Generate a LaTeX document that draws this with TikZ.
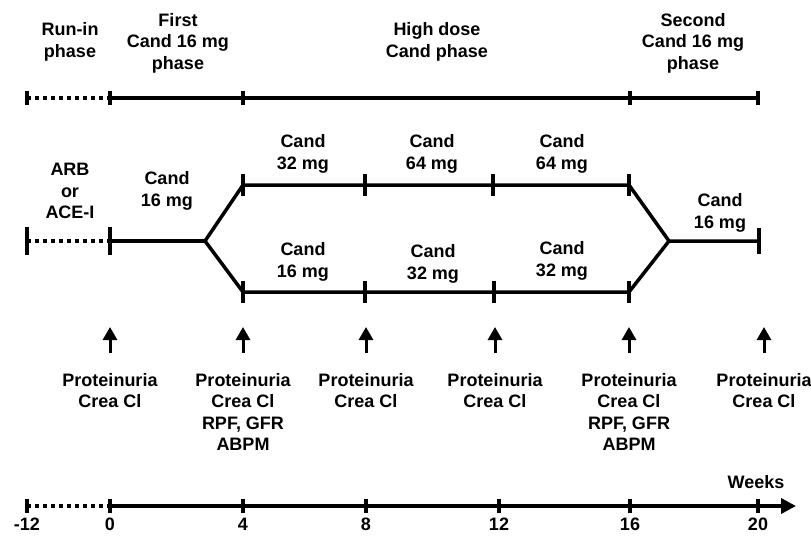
\documentclass[tikz,border=0pt]{standalone}
\usepackage{fontspec}
\setmainfont{Liberation Sans}
\usetikzlibrary{arrows.meta}
\begin{document}
\begin{tikzpicture}[x=1pt,y=-1pt,
  lbl/.style={font=\fontsize{18}{21.5}\selectfont\bfseries,align=center,inner sep=0pt},
  bar/.style={line width=3.5pt},
  tickmark/.style={line width=3.5pt},
  dotline/.style={line width=3.5pt,dash pattern=on 4pt off 4pt},
  upar/.style={line width=3pt,-{Triangle[length=13pt,width=14pt]}},
  axisar/.style={line width=3.5pt,-{Triangle[length=15pt,width=15pt]}}
]
\useasboundingbox (0,0) rectangle (811,538);

% ---------- phase line (top) ----------
\coordinate (t0) at (27,98);
\coordinate (t1) at (110,98);
\coordinate (t2) at (243,98);
\coordinate (t3) at (630,98);
\coordinate (t4) at (758,98);
\draw[dotline] (t0) -- (t1);
\draw[bar] (t1) -- (t4);
\foreach \p in {t0,t1,t2,t3,t4} \draw[tickmark] (\p) ++(0,-7) -- ++(0,14);

\node[lbl] (ph0) at (70,42) {Run-in\\phase};
\node[lbl] (ph1) at (178,43) {First\\Cand 16 mg\\phase};
\node[lbl] (ph2) at (437,42) {High dose\\Cand phase};
\node[lbl] (ph3) at (693,43) {Second\\Cand 16 mg\\phase};

% ---------- treatment arms (middle) ----------
\coordinate (m0) at (27,241);
\coordinate (m1) at (110,241);
\coordinate (br) at (205,241);
\coordinate (u0) at (243,185);
\coordinate (u1) at (365,185);
\coordinate (u2) at (493,185);
\coordinate (u3) at (629,185);
\coordinate (l0) at (243,292);
\coordinate (l1) at (365,292);
\coordinate (l2) at (494,292);
\coordinate (l3) at (629,292);
\coordinate (br2) at (669,241);
\coordinate (mE) at (759,241);

\draw[dotline] (m0) -- (m1);
\draw[bar] (m1) -- (br);
\draw[bar] (br) -- (u0) -- (u3) -- (br2) -- (mE);
\draw[bar] (br) -- (l0) -- (l3) -- (br2);
\foreach \p in {m0,m1} \draw[tickmark] (\p) ++(0,-14) -- ++(0,28);
\foreach \p in {u0,u1,u2,u3,l0,l1,l2,l3} \draw[tickmark] (\p) ++(0,-11) -- ++(0,22);
\draw[tickmark] (mE) ++(0,-13) -- ++(0,26);

\node[lbl] (d0) at (70,191) {ARB\\or\\ACE-I};
\node[lbl] (d1) at (167,191) {Cand\\16 mg};
\node[lbl] (d2) at (303,154) {Cand\\32 mg};
\node[lbl] (d3) at (432,154) {Cand\\64 mg};
\node[lbl] (d4) at (562,154) {Cand\\64 mg};
\node[lbl] (d5) at (303,262) {Cand\\16 mg};
\node[lbl] (d6) at (433,264) {Cand\\32 mg};
\node[lbl] (d7) at (562,261) {Cand\\32 mg};
\node[lbl] (d8) at (720,213) {Cand\\16 mg};

% ---------- measurement arrows ----------
\foreach \i/\x in {1/110,2/243,3/366,4/495,5/629,6/764} {
  \coordinate (ab\i) at (\x,353);
  \coordinate (at\i) at (\x,327);
  \draw[upar] (ab\i) -- (at\i);
}
\node[lbl,anchor=north] (ms1) at (110,373) {Proteinuria\\Crea Cl};
\node[lbl,anchor=north] (ms2) at (243,373) {Proteinuria\\Crea Cl\\RPF, GFR\\ABPM};
\node[lbl,anchor=north] (ms3) at (366,373) {Proteinuria\\Crea Cl};
\node[lbl,anchor=north] (ms4) at (495,373) {Proteinuria\\Crea Cl};
\node[lbl,anchor=north] (ms5) at (629,373) {Proteinuria\\Crea Cl\\RPF, GFR\\ABPM};
\node[lbl,anchor=north] (ms6) at (764,373) {Proteinuria\\Crea Cl};

% ---------- time axis (bottom) ----------
\coordinate (b0) at (27,506);
\coordinate (b1) at (110,506);
\coordinate (b2) at (243,506);
\coordinate (b3) at (366,506);
\coordinate (b4) at (499,506);
\coordinate (b5) at (630,506);
\coordinate (b6) at (758,506);
\coordinate (bE) at (796,506);
\draw[dotline] (b0) -- (b1);
\draw[axisar] (b1) -- (bE);
\foreach \p in {b0,b1,b2,b3,b4,b5,b6} \draw[tickmark] (\p) ++(0,-7) -- ++(0,14);

\node[lbl] (wk) at (756,482) {Weeks};
\node[lbl] (n0) at (27,524) {-12};
\node[lbl] (n1) at (110,524) {0};
\node[lbl] (n2) at (243,524) {4};
\node[lbl] (n3) at (366,524) {8};
\node[lbl] (n4) at (499,524) {12};
\node[lbl] (n5) at (630,524) {16};
\node[lbl] (n6) at (758,524) {20};
\end{tikzpicture}
\end{document}
